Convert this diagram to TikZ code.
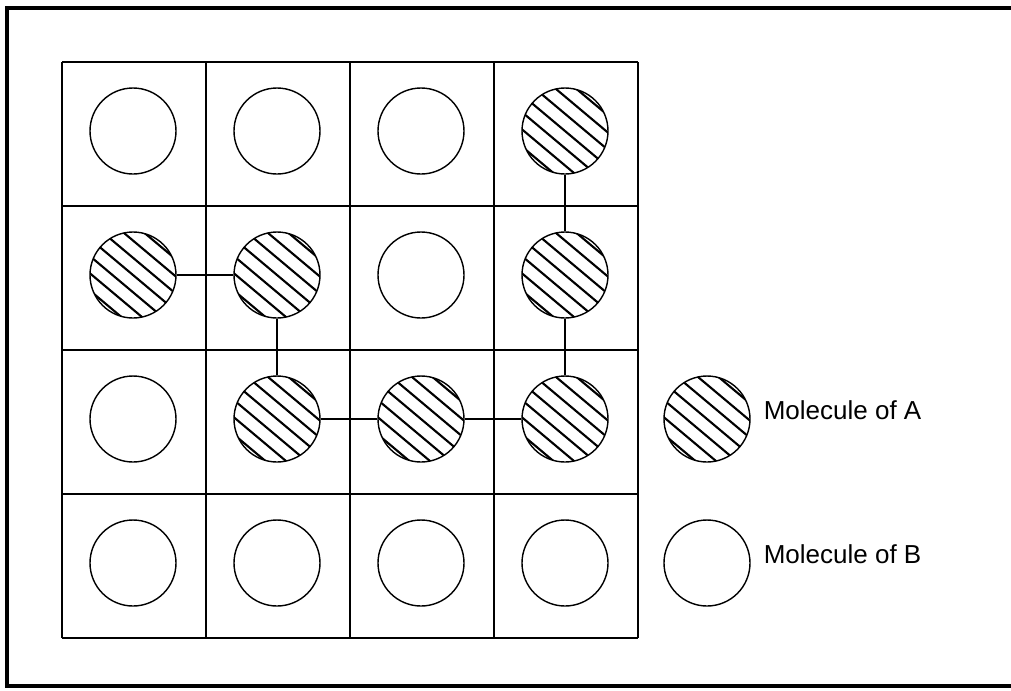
\documentclass[tikz,border=0pt]{standalone}
\usepackage{fontspec}
\setmainfont{Liberation Sans}
\usepackage{tikz}
\usetikzlibrary{positioning, calc}

\begin{document}
\begin{tikzpicture}[node distance=3.6cm,
    mol/.style={circle, draw, line width=1pt, minimum size=2.15cm, inner sep=0pt},
    hatch/.style={line width=1.5pt},
    molA/.style={mol, path picture={
      \foreach \d in {-0.99,-0.66,...,1.0}
        \draw[hatch] ($(path picture bounding box.center)+(50:\d cm)+(140:1.3cm)$)
                  -- ($(path picture bounding box.center)+(50:\d cm)+(-40:1.3cm)$);
    }},
    molB/.style={mol},
    bond/.style={line width=0.8pt},
    gridline/.style={line width=1pt},
    legtext/.style={anchor=west, inner sep=0pt, font=\fontsize{18.5}{22}\selectfont}]
  \useasboundingbox (0,0) rectangle (25.275,-17.25);

  % frame and lattice
  \draw[line width=2.2pt] (25.3,-0.2) -- (0.175,-0.2) -- (0.175,-17.15) -- (25.3,-17.15);
  \draw[gridline, shift={(1.55cm,-15.95cm)}] (0,0) grid[step=3.6cm] (14.4,14.4);

  % molecules
  \node[molB] (m11) at (3.325,-3.275) {};
  \node[molB] (m12) [right of=m11] {};
  \node[molB] (m13) [right of=m12] {};
  \node[molA] (m14) [right of=m13] {};
  \node[molA] (m21) [below of=m11] {};
  \node[molA] (m22) [right of=m21] {};
  \node[molB] (m23) [right of=m22] {};
  \node[molA] (m24) [right of=m23] {};
  \node[molB] (m31) [below of=m21] {};
  \node[molA] (m32) [right of=m31] {};
  \node[molA] (m33) [right of=m32] {};
  \node[molA] (m34) [right of=m33] {};
  \node[molB] (m41) [below of=m31] {};
  \node[molB] (m42) [right of=m41] {};
  \node[molB] (m43) [right of=m42] {};
  \node[molB] (m44) [right of=m43] {};

  % legend
  \node[molA] (legA) [right of=m34, node distance=3.55cm] {};
  \node[molB] (legB) [right of=m44, node distance=3.55cm] {};
  \node[legtext] (txtA) [right=0.32cm of legA, yshift=0.22cm] {Molecule of A};
  \node[legtext] (txtB) [right=0.32cm of legB, yshift=0.22cm] {Molecule of B};

  \path[bond] (m14) edge (m24)
              (m24) edge (m34)
              (m34) edge (m33)
              (m33) edge (m32)
              (m32) edge (m22)
              (m22) edge (m21);
\end{tikzpicture}
\end{document}
